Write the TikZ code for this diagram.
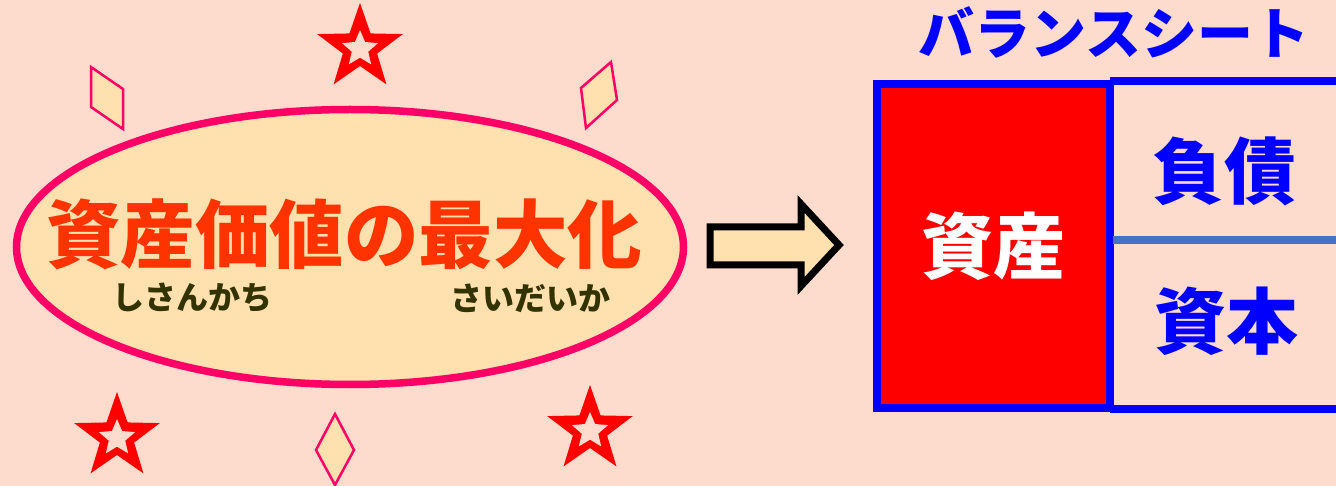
\documentclass[tikz,border=0pt]{standalone}
\usepackage{fontspec}
\newfontfamily\jp{Noto Sans CJK JP}
\usetikzlibrary{shapes.geometric}
\definecolor{bg}{HTML}{FDDCCD}
\definecolor{cream}{HTML}{FFE0AF}
\definecolor{hotpink}{HTML}{FF0066}
\definecolor{titlered}{HTML}{FF3300}
\definecolor{rubycol}{HTML}{333300}
\definecolor{bsblue}{HTML}{0000FF}
\definecolor{midline}{HTML}{4472C4}
\tikzset{
  bigstar/.style={star, star points=5, star point ratio=2.5, fill=red, minimum size=90pt, inner sep=0pt},
  smallstar/.style={star, star points=5, star point ratio=2.2, fill=bg, minimum size=38pt, inner sep=0pt},
  gem/.style={draw=hotpink, line width=2.5pt, fill=cream, line join=miter},
  bigtext/.style={font=\jp\bfseries\fontsize{72}{80}\selectfont, inner sep=0pt},
  ruby/.style={font=\jp\bfseries\fontsize{32}{36}\selectfont, text=rubycol, inner sep=0pt},
  bsline/.style={draw=bsblue, line width=8pt},
}
\begin{document}
\begin{tikzpicture}[x=1pt,y=-1pt]
\fill[bg] (0,0) rectangle (1336,486);
\useasboundingbox (0,0) rectangle (1336,486);
% stars
\node[bigstar] (s1) at (360,48) {};
\node[smallstar] (s1i) at (360,49) {};
\node[bigstar] (s2) at (117,437) {};
\node[smallstar] (s2i) at (117,438) {};
\node[bigstar] (s3) at (590,430) {};
\node[smallstar] (s3i) at (590,431) {};
% diamonds
\draw[gem] (91,67) -- (123,89) -- (123,129) -- (91,107) -- cycle;
\draw[gem] (611,62) -- (617,100) -- (586,128) -- (581,88) -- cycle;
\draw[gem] (335,414) -- (354,450) -- (335,485) -- (316,450) -- cycle;
% ellipse
\node[ellipse, draw=hotpink, line width=7.5pt, fill=cream, minimum width=667pt, minimum height=275pt] (ell) at (350,247) {};
\node[font=\jp\bfseries\fontsize{74.5}{80}\selectfont, inner sep=0pt, text=titlered] (title) at (344,234) {資産価値の最大化};
\node[ruby] (r1) at (192,298) {しさんかち};
\node[ruby] (r2) at (530,298) {さいだいか};
% arrow
\draw[line width=7pt, fill=cream, line join=miter] (710,227) -- (801,227) -- (801,204) -- (839,245) -- (801,286) -- (801,265) -- (710,265) -- cycle;
% balance sheet
\node[font=\jp\bfseries\fontsize{56}{60}\selectfont, text=bsblue, inner sep=0pt] (bstitle) at (1114,32) {バランスシート};
\node[rectangle, draw=bsblue, line width=8pt, fill=red, minimum width=233pt, minimum height=324pt, inner sep=0pt] (asset) at (993.5,246) {};
\node[bigtext, text=white] (assettxt) at (asset) {資産};
\draw[bsline] ([xshift=-4pt,yshift=-1pt]asset.north east) -- ++(240,0) coordinate (tr);
\draw[bsline] ([xshift=-4pt,yshift=3pt]asset.south east) -- ++(240,0) coordinate (br);
\draw[draw=midline, line width=8pt] ([xshift=-1pt,yshift=6pt]asset.east) -- ++(240,0) coordinate (mr);
\node[bigtext, text=bsblue] (liab) at (1224,171) {負債};
\node[bigtext, text=bsblue] (equity) at (1226,321) {資本};
\end{tikzpicture}
\end{document}
